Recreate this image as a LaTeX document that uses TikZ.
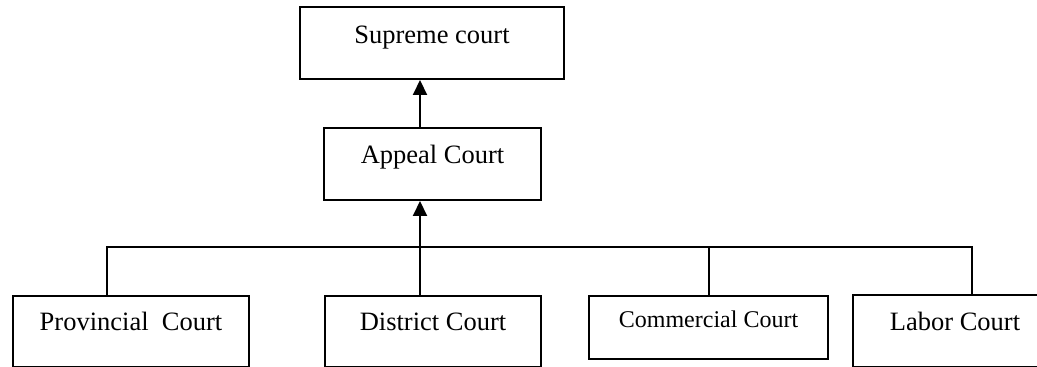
\documentclass[tikz,border=0pt]{standalone}
\usepackage{fontspec}
\setmainfont{Liberation Serif}
\usetikzlibrary{arrows.meta}

\begin{document}
\begin{tikzpicture}[
  x = 0.5pt, y = -0.5pt,
  court/.style = {draw, line width = 1pt, inner sep = 0pt, anchor = north west,
                  font = \fontsize{13.25}{16}\selectfont},
  up/.style = {line width = 1pt, -{Triangle[width = 7pt, length = 7.5pt]}},
  link/.style = {line width = 1pt}
  ]
  \useasboundingbox (0,0) rectangle (1037,367);

  \node[court, minimum width = 132pt, text height = 18.5pt, text depth = 17.5pt]
    (sup) at (299,6) {Supreme court};
  \node[court, minimum width = 108.5pt, text height = 18pt, text depth = 18pt]
    (app) at (323,127) {Appeal Court};

  \node[court, minimum width = 118pt, text height = 17.5pt, text depth = 18pt]
    (prov) at (12,295) {Provincial\ \ Court};
  \node[court, minimum width = 108pt, text height = 17.5pt, text depth = 18pt]
    (dist) at (324,295) {District Court};
  \node[court, minimum width = 119.5pt, text height = 16pt, text depth = 15.5pt,
        font = \fontsize{12}{14}\selectfont]
    (comm) at (588,295) {Commercial Court};
  \node[court, minimum width = 102pt, text height = 18pt, text depth = 18pt]
    (lab) at (852,294) {Labor Court\hspace{5pt}};

  % bus line joining the lower courts
  \coordinate (hub) at (420,247);
  \coordinate (bl) at (107,247);
  \coordinate (br) at (972,247);

  \draw[link] (prov.north -| bl) -- (bl) -- (br) -- (br |- lab.north);
  \draw[link] (dist.north -| hub) -- (hub);
  \draw[link] (comm.north) -- (comm.north |- hub);

  \draw[up] (hub) -- (hub |- app.south);
  \draw[up] (app.north -| hub) -- (hub |- sup.south);
\end{tikzpicture}
\end{document}
